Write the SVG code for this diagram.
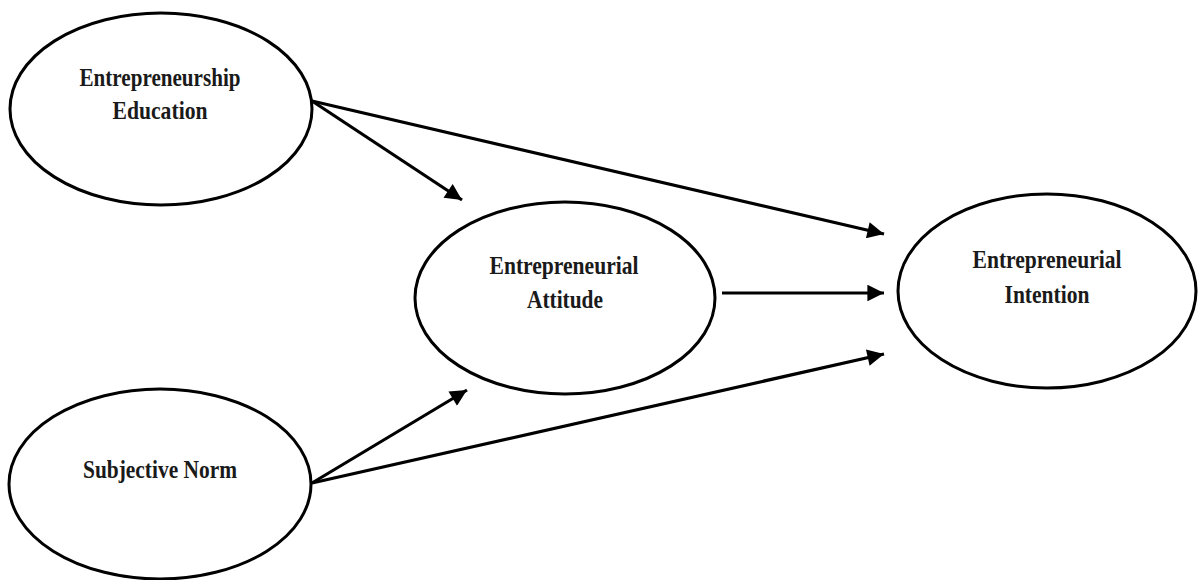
<svg xmlns="http://www.w3.org/2000/svg" width="1198" height="580" viewBox="0 0 1198 580">
<style>
.node{fill:#fff;stroke:#000;stroke-width:3}
.lbl{font-family:"Liberation Serif","DejaVu Serif",serif;font-weight:bold;font-size:25px;fill:#1a1a1a}
.edge{stroke:#000;stroke-width:3.2;fill:none}
</style>
<defs>
<marker id="ah" viewBox="0 0 10 10" refX="10" refY="5" markerWidth="6.5" markerHeight="5.2" markerUnits="strokeWidth" orient="auto">
<path d="M0,0 L10,5 L0,10 z" fill="#000"/>
</marker>
</defs>
<rect width="1198" height="580" fill="#fff"/>
<g id="connectors">
<line class="edge" x1="312" y1="101" x2="462" y2="200" marker-end="url(#ah)"/>
<line class="edge" x1="312" y1="101" x2="884" y2="234" marker-end="url(#ah)"/>
<line class="edge" x1="722" y1="293" x2="884" y2="293" marker-end="url(#ah)"/>
<line class="edge" x1="312" y1="483" x2="467" y2="390" marker-end="url(#ah)"/>
<line class="edge" x1="312" y1="483" x2="884" y2="354" marker-end="url(#ah)"/>
</g>
<g id="education">
<ellipse class="node" cx="161" cy="109" rx="151" ry="96"/>
<text class="lbl" x="160" y="86" text-anchor="middle" textLength="161" lengthAdjust="spacingAndGlyphs">Entrepreneurship</text>
<text class="lbl" x="160" y="119" text-anchor="middle" textLength="95" lengthAdjust="spacingAndGlyphs">Education</text>
</g>
<g id="attitude">
<ellipse class="node" cx="565" cy="298" rx="150" ry="96"/>
<text class="lbl" x="564" y="274" text-anchor="middle" textLength="149" lengthAdjust="spacingAndGlyphs">Entrepreneurial</text>
<text class="lbl" x="565" y="308" text-anchor="middle" textLength="76" lengthAdjust="spacingAndGlyphs">Attitude</text>
</g>
<g id="intention">
<ellipse class="node" cx="1047" cy="291" rx="149" ry="97"/>
<text class="lbl" x="1047" y="268" text-anchor="middle" textLength="149" lengthAdjust="spacingAndGlyphs">Entrepreneurial</text>
<text class="lbl" x="1047" y="303" text-anchor="middle" textLength="85" lengthAdjust="spacingAndGlyphs">Intention</text>
</g>
<g id="norm">
<ellipse class="node" cx="160" cy="484" rx="151" ry="95"/>
<text class="lbl" x="160" y="478" text-anchor="middle" textLength="154" lengthAdjust="spacingAndGlyphs">Subjective Norm</text>
</g>
</svg>
